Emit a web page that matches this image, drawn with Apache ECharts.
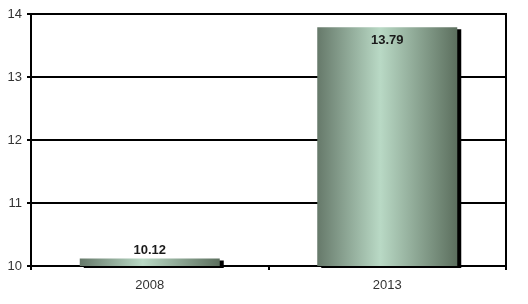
<!DOCTYPE html>
<html>
<head>
<meta charset="utf-8">
<script src="https://cdn.jsdelivr.net/npm/echarts@6/dist/echarts.min.js"></script>
<style>html,body{margin:0;padding:0;background:#fff;}#c{width:528px;height:304px;}</style>
</head>
<body>
<div id="c"></div>
<script>
const categories = ['2008', '2013'];
const values = [10.12, 13.79];
const yTicks = [10, 11, 12, 13, 14];

const chart = echarts.init(document.getElementById('c'), null, {renderer: 'canvas'});
const grad = new echarts.graphic.LinearGradient(0, 0, 1, 0, [
  {offset: 0, color: '#66796a'},
  {offset: 0.45, color: '#b9d9c5'},
  {offset: 1, color: '#5c6f5e'}
]);
const labelPos = ['top', 'insideTop'];
chart.setOption({
  animation: false,
  grid: {left: 31, right: 22, top: 14, bottom: 38, show: true, borderColor: '#000', borderWidth: 2},
  xAxis: {
    type: 'category', data: categories, boundaryGap: true,
    axisLine: {lineStyle: {color: '#000', width: 2}},
    axisTick: {show: true, length: 4, lineStyle: {color: '#000', width: 2}},
    axisLabel: {color: '#333', fontFamily: 'Liberation Sans', fontSize: 13, margin: 13}
  },
  yAxis: {
    type: 'value', min: yTicks[0], max: yTicks[yTicks.length - 1], interval: 1,
    axisLine: {show: true, lineStyle: {color: '#000', width: 2}},
    axisTick: {show: true, length: 4, lineStyle: {color: '#000', width: 2}},
    splitLine: {lineStyle: {color: '#000', width: 2}},
    axisLabel: {color: '#333', fontFamily: 'Liberation Sans', fontSize: 13, margin: 9}
  },
  series: [{
    type: 'bar', barWidth: 140,
    data: values.map((v, i) => ({
      value: v,
      label: {show: true, position: labelPos[i], distance: i === 0 ? 2 : 7}
    })),
    itemStyle: {color: grad, borderWidth: 0, shadowColor: '#000', shadowOffsetX: 4, shadowOffsetY: 2, shadowBlur: 0},
    label: {color: '#1a1a1a', fontWeight: 'bold', fontFamily: 'Liberation Sans', fontSize: 13, formatter: p => p.value.toFixed(2)}
  }]
});
</script>
</body>
</html>
